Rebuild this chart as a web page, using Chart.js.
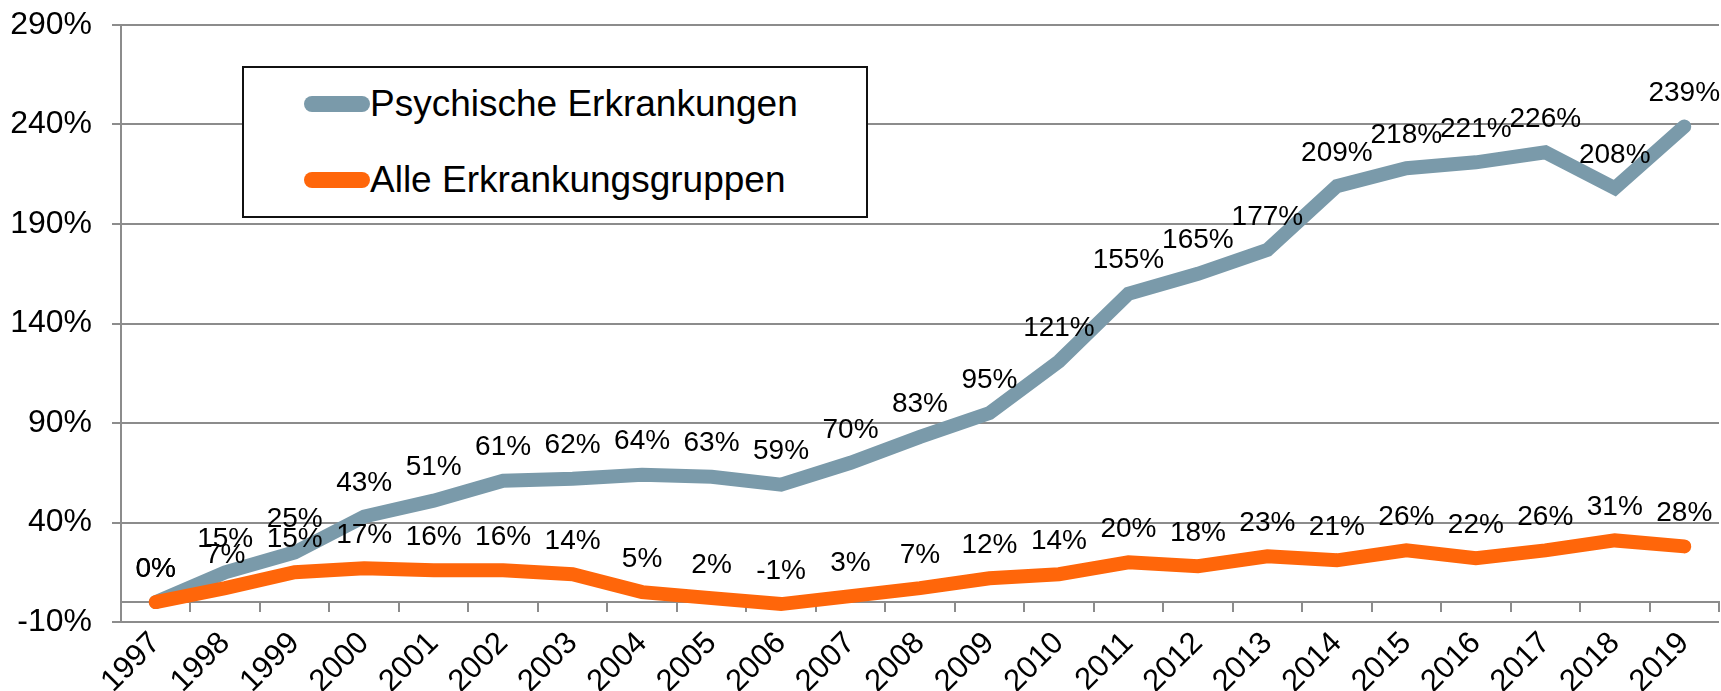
<!DOCTYPE html>
<html>
<head>
<meta charset="utf-8">
<script src="https://cdn.jsdelivr.net/npm/chart.js@4/dist/chart.umd.min.js"></script>
<style>
  html, body { margin: 0; padding: 0; background: #fff; }
  .wrap { position: relative; width: 1721px; height: 691px; }
  .legend-box {
    position: absolute; left: 242px; top: 66px; width: 622px; height: 148px;
    border: 2px solid #111; background: #fff;
    font-family: "Liberation Sans", Arial, sans-serif;
  }
  .legend-item { position: absolute; left: 60px; height: 40px; display: flex; align-items: center; }
  .legend-item__color { width: 66px; height: 16px; border-radius: 8px; }
  .legend-item__name { font-size: 37px; color: #000; white-space: nowrap; }
</style>
</head>
<body>
<div class="wrap">
  <canvas id="chart"></canvas>
  <div class="legend-box">
    <div class="legend-item" style="top:16px"><div class="legend-item__color" id="label-01__color"></div><span class="legend-item__name" id="label-01"></span></div>
    <div class="legend-item" style="top:92px"><div class="legend-item__color" id="label-02__color"></div><span class="legend-item__name" id="label-02"></span></div>
  </div>
</div>
<script>
// DATEN
const years = ['1997','1998','1999','2000','2001','2002','2003','2004','2005','2006','2007','2008',
  '2009','2010','2011','2012','2013','2014','2015','2016','2017','2018','2019'];
const psychisch = [0, 15, 25, 43, 51, 61, 62, 64, 63, 59, 70, 83, 95, 121, 155, 165, 177, 209, 218, 221, 226, 208, 239];
const alle = [0, 7, 15, 17, 16, 16, 14, 5, 2, -1, 3, 7, 12, 14, 20, 18, 23, 21, 26, 22, 26, 31, 28];
const yTicks = [-10, 40, 90, 140, 190, 240, 290];

const gridGrey = '#8c8c8c';
const font = '"Liberation Sans", Arial, sans-serif';

// Datenbeschriftung über den Punkten
const valueLabels = {
  id: 'valueLabels',
  afterDatasetsDraw(chart) {
    const ctx = chart.ctx;
    ctx.save();
    ctx.font = '28px ' + font;
    ctx.fillStyle = '#000';
    ctx.textAlign = 'center';
    ctx.textBaseline = 'middle';
    chart.data.datasets.forEach(function(ds, i){
      chart.getDatasetMeta(i).data.forEach(function(pt, j){
        ctx.fillText(ds.data[j] + '%', pt.x, pt.y - 33);
      });
    });
    ctx.restore();
  }
};

function noPad(scale){
  scale.paddingLeft = 0;
  scale.paddingRight = 0;
  scale.paddingTop = 0;
  scale.paddingBottom = 0;
}

const data = {
  labels: years,
  datasets: [{
    label: 'Psychische Erkrankungen',
    data: psychisch,
    borderColor: '#7a9aaa',
    order: 1
  },{
    label: 'Alle Erkrankungsgruppen',
    data: alle,
    borderColor: '#ff660a',
    order: 0
  }]
};

const config = {
  type: 'line',
  data,
  options: {
    responsive: true,
    maintainAspectRatio: false,
    animation: false,
    layout: { padding: { top: 25, right: 2, left: 0, bottom: 0 } },
    elements: {
      line: { borderWidth: 14, tension: 0, borderCapStyle: 'round', borderJoinStyle: 'miter' },
      point: { radius: 0, hoverRadius: 0 }
    },
    scales: {
      x: {
        offset: true,
        grid: { display: false, drawTicks: false },
        border: { display: false },
        ticks: { color: '#000', font: { size: 31, family: font }, minRotation: 45, maxRotation: 45, padding: 3, autoSkip: false },
        afterFit: function(scale){ scale.height = 69; noPad(scale); }
      },
      x2: {
        axis: 'x',
        type: 'category',
        labels: years,
        position: { y: 0 },
        offset: true,
        grid: { offset: true, drawOnChartArea: false, drawTicks: true, tickLength: 9, color: gridGrey, lineWidth: 2 },
        border: { display: true, color: gridGrey, width: 2 },
        ticks: { display: false },
        afterFit: function(scale){ scale.height = 0; noPad(scale); }
      },
      y: {
        min: -10,
        max: 290,
        afterBuildTicks: function(scale){ scale.ticks = yTicks.map(function(v){ return { value: v }; }); },
        ticks: {
          color: '#000',
          font: { size: 32, family: font },
          padding: 20,
          callback: function(value){ return value + '%'; }
        },
        grid: { color: gridGrey, lineWidth: 2, tickLength: 9 },
        border: { color: gridGrey, width: 2 },
        afterFit: function(scale){ scale.width = 121; noPad(scale); }
      }
    },
    plugins: {
      legend: { display: false },
      tooltip: { enabled: false }
    }
  },
  plugins: [valueLabels]
};

// LEGENDE
document.getElementById('label-01__color').style.backgroundColor = data.datasets[0].borderColor;
document.getElementById('label-02__color').style.backgroundColor = data.datasets[1].borderColor;
document.getElementById('label-01').innerHTML = data.datasets[0].label;
document.getElementById('label-02').innerHTML = data.datasets[1].label;

const myChart = new Chart(document.getElementById('chart'), config);
</script>
</body>
</html>
